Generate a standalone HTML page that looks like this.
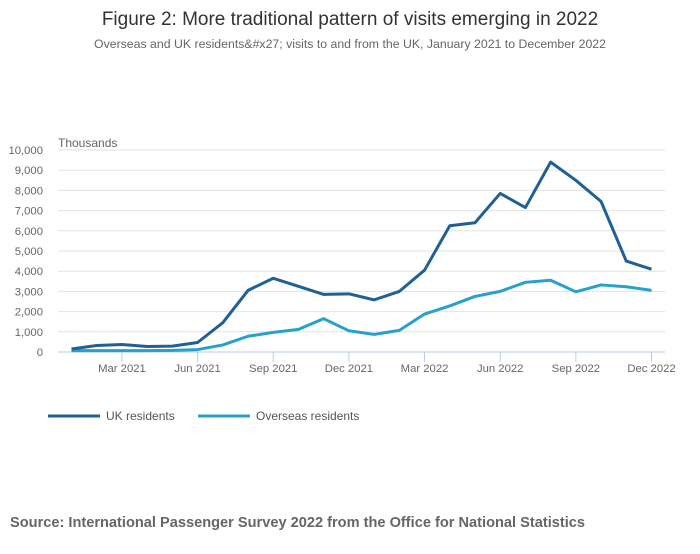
<!DOCTYPE html>
<html><head><meta charset="utf-8"><style>
body{margin:0;background:#fff;font-family:"Liberation Sans",sans-serif;}
svg text{font-family:"Liberation Sans",sans-serif;}
</style></head><body>
<svg width="700" height="549">
<text x="350" y="25" text-anchor="middle" font-size="19" fill="#333">Figure 2: More traditional pattern of visits emerging in 2022</text>
<text x="350" y="48" text-anchor="middle" font-size="12.3" fill="#666">Overseas and UK residents&amp;#x27; visits to and from the UK, January 2021 to December 2022</text>
<text x="58" y="147" font-size="12" fill="#666">Thousands</text>
<g id="grid"></g><g id="xaxis"></g><g id="lines"></g>
<g>
<line x1="48" y1="416" x2="100" y2="416" stroke="#206095" stroke-width="3"/>
<text x="106" y="420" font-size="12" fill="#555">UK residents</text>
<line x1="198" y1="416" x2="250" y2="416" stroke="#27a0cc" stroke-width="3"/>
<text x="256" y="420" font-size="12" fill="#555">Overseas residents</text>
</g>
<text x="10" y="527" font-size="14.6" font-weight="bold" fill="#666">Source: International Passenger Survey 2022 from the Office for National Statistics</text>
</svg>
<script>
const months=["Jan 2021","Feb 2021","Mar 2021","Apr 2021","May 2021","Jun 2021","Jul 2021","Aug 2021","Sep 2021","Oct 2021","Nov 2021","Dec 2021","Jan 2022","Feb 2022","Mar 2022","Apr 2022","May 2022","Jun 2022","Jul 2022","Aug 2022","Sep 2022","Oct 2022","Nov 2022","Dec 2022"];
const ukResidents=[150,320,370,270,290,470,1450,3050,3650,3250,2850,2880,2580,3000,4050,6250,6400,7850,7150,9400,8500,7450,4500,4100];
const overseasResidents=[70,70,70,70,80,120,350,780,970,1120,1650,1050,870,1070,1880,2280,2750,3000,3450,3550,2980,3320,3230,3050];
const yTicks=[0,1000,2000,3000,4000,5000,6000,7000,8000,9000,10000];
const xTickIdx=[2,5,8,11,14,17,20,23];
const ns="http://www.w3.org/2000/svg";
const x=i=>71.5+i*(580/23);
const y=v=>352-v*(202/10000);
const grid=document.getElementById('grid');
yTicks.forEach(t=>{
 const l=document.createElementNS(ns,'line');
 l.setAttribute('x1',58);l.setAttribute('x2',665);l.setAttribute('y1',y(t));l.setAttribute('y2',y(t));
 l.setAttribute('stroke',t===0?'#b8cce4':'#e2e2e2');l.setAttribute('stroke-width',1);
 
 
 grid.appendChild(l);
 const tx=document.createElementNS(ns,'text');
 tx.setAttribute('x',43);tx.setAttribute('y',y(t)+4);tx.setAttribute('text-anchor','end');
 tx.setAttribute('font-size','11.3');tx.setAttribute('fill','#666');
 tx.textContent=t.toLocaleString('en-US');
 
 
 grid.appendChild(tx);
});
const xa=document.getElementById('xaxis');
xTickIdx.forEach(i=>{
 const l=document.createElementNS(ns,'line');
 l.setAttribute('x1',x(i));l.setAttribute('x2',x(i));l.setAttribute('y1',352);l.setAttribute('y2',362);
 l.setAttribute('stroke','#b8cce4');
 
 
 xa.appendChild(l);
 const tx=document.createElementNS(ns,'text');
 tx.setAttribute('x',x(i));tx.setAttribute('y',372);tx.setAttribute('text-anchor','middle');
 tx.setAttribute('font-size','11.3');tx.setAttribute('fill','#666');
 tx.textContent=months[i];
 
 
 xa.appendChild(tx);
});
const lines=document.getElementById('lines');
function drawLine(vals,color,name){
 const p=document.createElementNS(ns,'polyline');
 p.setAttribute('points',vals.map((v,i)=>x(i)+','+y(v)).join(' '));
 p.setAttribute('fill','none');p.setAttribute('stroke',color);p.setAttribute('stroke-width',3);
 p.setAttribute('stroke-linejoin','round');
 
 
 lines.appendChild(p);
}
drawLine(overseasResidents,'#27a0cc','overseas-residents-line');
drawLine(ukResidents,'#206095','uk-residents-line');
</script>
</body></html>
